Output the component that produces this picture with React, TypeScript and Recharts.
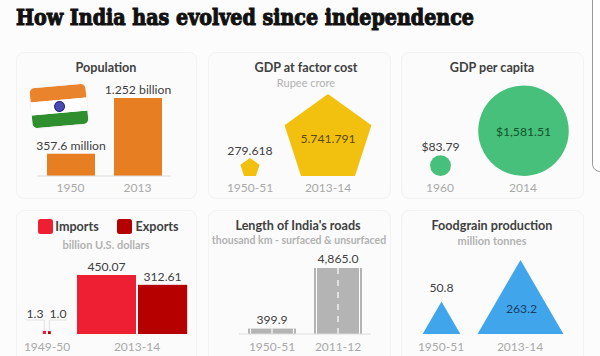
import React from "react";
import { BarChart, Bar, XAxis, YAxis } from "recharts";

const TITLE = "How India has evolved since independence";

const popYears = ["1950", "2013"];
const popValues = [357.6, 1252];
const popLabels = ["357.6 million", "1.252 billion"];

const gdpYears = ["1950-51", "2013-14"];
const gdpValues = [279.618, 5741.791];
const gdpLabels = ["279.618", "5.741.791"];

const capYears = ["1960", "2014"];
const capValues = [83.79, 1581.51];
const capLabels = ["$83.79", "$1,581.51"];

const tradeYears = ["1949-50", "2013-14"];
const importValues = [1.3, 450.07];
const exportValues = [1.0, 312.61];
const importLabels = ["1.3", "450.07"];
const exportLabels = ["1.0", "312.61"];

const roadYears = ["1950-51", "2011-12"];
const roadValues = [399.9, 4865];
const roadLabels = ["399.9", "4,865.0"];

const foodYears = ["1950-51", "2013-14"];
const foodValues = [50.8, 263.2];
const foodLabels = ["50.8", "263.2"];

const FONT = "Lato, sans-serif";
const INK = "#404040";
const TICK = "#a9a9a9";
const SUB = "#b2b2b2";

const rows = (cats: string[], vals: number[], labels: string[]) =>
  cats.map((c, i) => ({ cat: c, value: vals[i], label: labels[i] }));

const tradeRows = tradeYears.map((c, i) => ({
  cat: c,
  imports: importValues[i],
  exports: exportValues[i],
  importLabel: importLabels[i],
  exportLabel: exportLabels[i],
}));

const Val = ({ x, y, children, fill = INK }: any) => (
  <text x={x} y={y} textAnchor="middle" fontFamily={FONT} fontSize={12.2} fill={fill}>
    {children}
  </text>
);

const BarShape = (color: string) => (p: any) => (
  <g>
    <rect x={p.x} y={p.y} width={p.width} height={p.height} fill={color} />
    <Val x={p.x + p.width / 2} y={p.y - 4}>{p.payload.label}</Val>
  </g>
);

const PentagonShape = (p: any) => {
  const cx = p.x + p.width / 2;
  const h = p.height;
  const w = h * 1.06;
  const l = cx - w / 2;
  const pts = [
    [0.5, 0],
    [1, 0.38],
    [0.81, 1],
    [0.19, 1],
    [0, 0.38],
  ]
    .map(([a, b]) => `${l + a * w},${p.y + b * h}`)
    .join(" ");
  const big = h > 40;
  return (
    <g>
      <polygon points={pts} fill="#f2c00e" />
      <Val x={cx} y={big ? p.y + h * 0.6 : p.y - 3} fill={big ? "#5e4c0c" : INK}>{p.payload.label}</Val>
    </g>
  );
};

const CircleShape = (p: any) => {
  const cx = p.x + p.width / 2;
  const big = p.height > 40;
  return (
    <g>
      <circle cx={cx} cy={p.y + p.height / 2} r={p.height / 2} fill="#46c07a" />
      <Val x={cx} y={big ? p.y + p.height / 2 + 5 : p.y - 4} fill={big ? "#14532d" : INK}>{p.payload.label}</Val>
    </g>
  );
};

const TriangleShape = (p: any) => {
  const cx = p.x + p.width / 2;
  const h = p.height;
  const w = h * 1.16;
  const big = h > 50;
  return (
    <g>
      <polygon points={`${cx},${p.y} ${cx + w / 2},${p.y + h} ${cx - w / 2},${p.y + h}`} fill="#41a5ec" />
      <Val x={big ? cx + 1 : cx} y={big ? p.y + h * 0.72 : p.y - 9} fill={big ? "#1a3d66" : INK}>{p.payload.label}</Val>
    </g>
  );
};

const RoadShape = (p: any) => {
  const cx = p.x + p.width / 2;
  return (
    <g>
      <rect x={p.x} y={p.y} width={p.width} height={p.height} fill="#b4b4b4" />
      <rect x={p.x + 2} y={p.y} width={1} height={p.height} fill="#fff" />
      <rect x={p.x + p.width - 3} y={p.y} width={1} height={p.height} fill="#fff" />
      <line x1={cx} x2={cx} y1={p.y} y2={p.y + p.height} stroke="#fff" strokeWidth={1.2} strokeDasharray="6 6" />
      <Val x={cx} y={p.y - 5}>{p.payload.label}</Val>
    </g>
  );
};

const ImportShape = (p: any) => {
  const center = p.x + p.width;
  const side = p.height;
  const small = side < 10;
  const x = center - side - 1;
  return (
    <g>
      <rect x={x} y={p.y} width={side} height={side} fill="#ee1f33" />
      {small ? (
        <g>
          <polyline points={`${x + side / 2},${p.y - 1} ${x + side / 2},320 ${center - 21},320`} fill="none" stroke="#dcdcdc" strokeWidth={0.8} />
          <Val x={center - 12} y={318}>{p.payload.importLabel}</Val>
        </g>
      ) : (
        <Val x={x + side / 2} y={p.y - 4}>{p.payload.importLabel}</Val>
      )}
    </g>
  );
};

const ExportShape = (p: any) => {
  const center = p.x;
  const side = p.height;
  const small = side < 10;
  const x = center + 1;
  return (
    <g>
      <rect x={x} y={p.y} width={side} height={side} fill="#b60000" />
      {small ? (
        <g>
          <polyline points={`${x + side / 2},${p.y - 1} ${x + side / 2},320 ${center + 20},320`} fill="none" stroke="#dcdcdc" strokeWidth={0.8} />
          <Val x={center + 11} y={318}>{p.payload.exportLabel}</Val>
        </g>
      ) : (
        <Val x={x + side / 2} y={p.y - 4}>{p.payload.exportLabel}</Val>
      )}
    </g>
  );
};

const Layer = ({ children }: any) => (
  <div style={{ position: "absolute", left: 0, top: 0, width: 600, height: 356 }}>{children}</div>
);

const tickStyle = { fontSize: 12, fill: TICK, fontFamily: FONT };

const Mini = ({ data, left, right, top, baseline, max, sqrt, axis, shape, barSize, tickMargin = 2 }: any) => (
  <Layer>
    <BarChart
      width={600}
      height={356}
      data={data}
      margin={{ left, right: 600 - right, top, bottom: 356 - baseline - 20 }}
    >
      <XAxis
        dataKey="cat"
        height={20}
        tickLine={false}
        tickMargin={tickMargin}
        interval={0}
        axisLine={axis ? { stroke: "#dcdcdc" } : false}
        tick={tickStyle}
      />
      <YAxis hide width={0} domain={[0, max]} scale={sqrt ? "sqrt" : "linear"} />
      <Bar dataKey="value" barSize={barSize} isAnimationActive={false} shape={shape} />
    </BarChart>
  </Layer>
);

const Txt = ({ x, y, size = 12.6, weight = 700, color = INK, children }: any) => (
  <div
    style={{
      position: "absolute",
      left: x,
      top: y,
      transform: "translate(-50%,-50%)",
      whiteSpace: "nowrap",
      fontFamily: FONT,
      fontSize: size,
      fontWeight: weight,
      color,
      lineHeight: 1,
    }}
  >
    {children}
  </div>
);

const Panel = ({ x, y, w, h }: any) => (
  <div
    style={{
      position: "absolute",
      left: x,
      top: y,
      width: w,
      height: h,
      boxSizing: "border-box",
      background: "#fbfbfb",
      border: "1px solid #f3f3f4",
      borderRadius: 8,
    }}
  />
);

const Swatch = ({ x, color }: any) => (
  <div style={{ position: "absolute", left: x, top: 219, width: 15, height: 15, borderRadius: 2.5, background: color }} />
);

const Flag = () => (
  <div
    style={{
      position: "absolute",
      left: 31,
      top: 86,
      width: 56,
      height: 40,
      borderRadius: 5,
      overflow: "hidden",
      transform: "rotate(-5deg)",
      boxShadow: "0 0 2px #e4e4e4",
    }}
  >
    <div style={{ height: 13.5, background: "#e9842d" }} />
    <div style={{ height: 13, background: "#fff", position: "relative" }}>
      <div
        style={{
          position: "absolute",
          left: 22.5,
          top: 1,
          width: 11,
          height: 11,
          borderRadius: "50%",
          boxSizing: "border-box",
          border: "1.5px solid #26267e",
          background: "#4a4ab0",
        }}
      />
    </div>
    <div style={{ height: 13.5, background: "#2f8f2f" }} />
  </div>
);

export default function App() {
  return (
    <div style={{ position: "fixed", left: 0, top: 0, width: 600, height: 356, overflow: "hidden", background: "#fcfcfc" }}>
      <div
        style={{
          position: "absolute",
          left: 592,
          top: -12,
          width: 30,
          height: 184,
          boxSizing: "border-box",
          background: "#fff",
          border: "1px solid #9a9a9a",
          borderRadius: 8,
        }}
      />
      <svg width={600} height={40} style={{ position: "absolute", left: 0, top: 0 }}>
        <text
          x={16}
          y={25}
          fontFamily="'DejaVu Serif', serif"
          fontWeight={700}
          fontSize={22}
          fill="#111"
          stroke="#111"
          strokeWidth={1.1}
          textLength={458}
          lengthAdjust="spacingAndGlyphs"
        >
          {TITLE}
        </text>
      </svg>

      <Panel x={16} y={52} w={181} h={147} />
      <Panel x={208} y={52} w={183} h={147} />
      <Panel x={401} y={52} w={183} h={147} />
      <Panel x={16} y={210} w={181} h={160} />
      <Panel x={208} y={210} w={183} h={160} />
      <Panel x={401} y={210} w={183} h={160} />

      <Flag />

      <Mini data={rows(popYears, popValues, popLabels)} left={37} right={171} top={98} baseline={176} max={1252} axis barSize={48} tickMargin={1} shape={BarShape("#e87e22")} />
      <Mini data={rows(gdpYears, gdpValues, gdpLabels)} left={211} right={367} top={94} baseline={176} max={5741.791} sqrt barSize={40} tickMargin={1} shape={PentagonShape} />
      <Mini data={rows(capYears, capValues, capLabels)} left={398.5} right={564.5} top={85.5} baseline={176} max={1581.51} sqrt barSize={40} tickMargin={1} shape={CircleShape} />

      <Layer>
        <BarChart width={600} height={356} data={tradeRows} barGap={0} margin={{ left: 2, right: 418, top: 275, bottom: 2 }}>
          <XAxis dataKey="cat" height={20} tickLine={false} tickMargin={2} interval={0} axisLine={false} tick={tickStyle} />
          <YAxis hide width={0} domain={[0, 450.07]} scale="sqrt" />
          <Bar dataKey="imports" name="Imports" barSize={30} isAnimationActive={false} shape={ImportShape} />
          <Bar dataKey="exports" name="Exports" barSize={30} isAnimationActive={false} shape={ExportShape} />
        </BarChart>
      </Layer>

      <Mini data={rows(roadYears, roadValues, roadLabels)} left={239} right={371} top={268} baseline={334} max={4865} axis barSize={48} shape={RoadShape} />
      <Mini data={rows(foodYears, foodValues, foodLabels)} left={401.5} right={559.5} top={260} baseline={334} max={263.2} sqrt barSize={40} shape={TriangleShape} />

      <Txt x={106} y={68}>Population</Txt>
      <Txt x={306} y={68}>GDP at factor cost</Txt>
      <Txt x={306} y={81.5} size={11} weight={400} color={SUB}>Rupee crore</Txt>
      <Txt x={492} y={68}>GDP per capita</Txt>

      <Swatch x={38} color="#ee1f33" />
      <Txt x={77} y={227}>Imports</Txt>
      <Swatch x={117} color="#b60000" />
      <Txt x={157} y={227}>Exports</Txt>
      <Txt x={106} y={244} size={11} color={SUB}>billion U.S. dollars</Txt>

      <Txt x={298} y={226}>Length of India's roads</Txt>
      <Txt x={299} y={239.5} size={10.5} color={SUB}>thousand km - surfaced &amp; unsurfaced</Txt>
      <Txt x={492} y={226}>Foodgrain production</Txt>
      <Txt x={492} y={239.5} size={11} color={SUB}>million tonnes</Txt>
    </div>
  );
}
